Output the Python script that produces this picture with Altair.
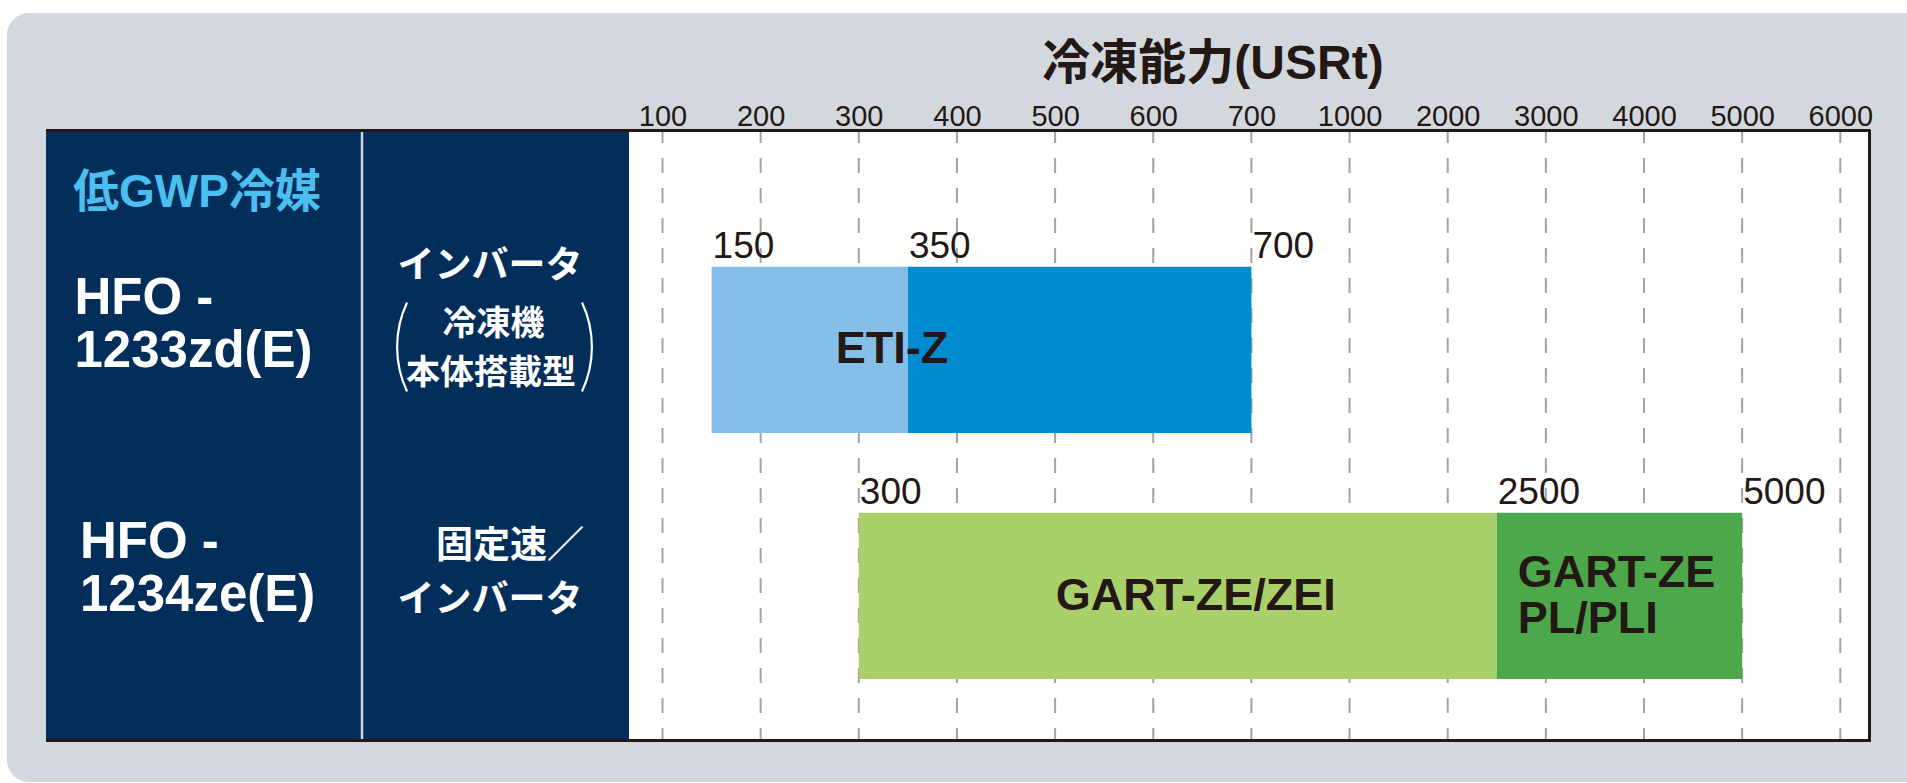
import altair as alt
import pandas as pd

# ---------------- data ----------------
tick_values = [100, 200, 300, 400, 500, 600, 700, 1000, 2000, 3000, 4000, 5000, 6000]

refrigerants = ["HFO-1233zd(E)", "HFO-1234ze(E)"]
refrigerant_labels = ["HFO -\n1233zd(E)", "HFO -\n1234ze(E)"]

seg_refrigerant = ["HFO-1233zd(E)", "HFO-1233zd(E)", "HFO-1234ze(E)", "HFO-1234ze(E)"]
seg_series = ["ETI-Z 150-350", "ETI-Z 350-700", "GART-ZE/ZEI", "GART-ZE PL/PLI"]
seg_start = [150, 350, 300, 2500]
seg_end = [350, 700, 2500, 5000]

bound_refrigerant = ["HFO-1233zd(E)"] * 3 + ["HFO-1234ze(E)"] * 3
bound_value = [150, 350, 700, 300, 2500, 5000]

model_text = ["ETI-Z", "GART-ZE/ZEI", "GART-ZE\nPL/PLI"]
model_refrigerant = ["HFO-1233zd(E)", "HFO-1234ze(E)", "HFO-1234ze(E)"]
model_anchor = [350, 300, 2500]

head_text = "低GWP冷媒"
drive_row1 = ["インバータ", "冷凍機", "本体搭載型"]
drive_row2 = ["固定速／", "インバータ"]
axis_title = "冷凍能力(USRt)"

# ---------------- styles / layout ----------------
seg_colors = ["#85BFE9", "#008BD0", "#AAD06C", "#4CA84A"]
INK = "#231815"
NAVY = "#032E5A"
PANEL = "#D3D8DF"
CYAN = "#4BBFEF"
LATIN = "Liberation Sans"
CJK = "Liberation Sans, Noto Sans CJK JP"

W, H = 1823, 610
PAD = {"left": 46, "top": 130, "right": 38, "bottom": 43}
tick_px = [616.5 + 98.15 * i for i in range(len(tick_values))]

seg_df = pd.DataFrame({"refrigerant": seg_refrigerant, "series": seg_series,
                       "start": seg_start, "end": seg_end})
bound_df = pd.DataFrame({"refrigerant": bound_refrigerant, "value": bound_value})
model_df = pd.DataFrame({"refrigerant": model_refrigerant, "text": model_text,
                         "anchor": model_anchor})
ref_df = pd.DataFrame({"refrigerant": refrigerants, "text": refrigerant_labels})
tick_df = pd.DataFrame({"tick": tick_values})
one = pd.DataFrame({"d": [0]})

xscale = alt.Scale(domain=tick_values, range=tick_px, zero=False, nice=False)
yscale = alt.Scale(domain=refrigerants, range=[136.7, 549.0], paddingInner=0.324, paddingOuter=0)
Y = alt.Y("refrigerant:N", scale=yscale, axis=None)

xaxis = alt.Axis(
    orient="top", values=tick_values, format="d", domain=False, ticks=False, tickSize=0,
    grid=False, labelFont=LATIN, labelFontSize=29, labelColor=INK, labelPadding=5,
    labelBaseline="alphabetic", labelFlush=False, labelOverlap=False, labelBound=False,
    title=axis_title, titleFont=CJK, titleFontSize=48, titleFontWeight="bold",
    titleColor=INK, titleX=1166.5, titleY=-52, titleAlign="center",
    titleBaseline="alphabetic", zindex=1,
)

def X(field):
    return alt.X(field, scale=xscale, axis=xaxis)

layers = []

# background panel, navy label area, white plot area
layers.append(alt.Chart(one).mark_rect(color=PANEL, cornerRadius=22).encode(
    x=alt.value(-39), x2=alt.value(1900), y=alt.value(-117), y2=alt.value(652)))
layers.append(alt.Chart(one).mark_rect(color=NAVY).encode(
    x=alt.value(0), x2=alt.value(583), y=alt.value(0), y2=alt.value(H)))
layers.append(alt.Chart(one).mark_rect(color="white").encode(
    x=alt.value(583), x2=alt.value(W), y=alt.value(0), y2=alt.value(H)))
layers.append(alt.Chart(one).mark_rule(color="#CDD2D9", strokeWidth=2.5).encode(
    x=alt.value(316), y=alt.value(0), y2=alt.value(H)))

# dashed grid
layers.append(alt.Chart(tick_df).mark_rule(
    color="#A3A3A3", strokeWidth=2, strokeDash=[15, 15], strokeDashOffset=2).encode(
    x=X("tick:Q"), y=alt.value(0), y2=alt.value(H)))

# bars
layers.append(alt.Chart(seg_df).mark_bar().encode(
    x=X("start:Q"), x2="end:Q", y=Y,
    color=alt.Color("series:N", scale=alt.Scale(domain=seg_series, range=seg_colors), legend=None)))

# frame
layers.append(alt.Chart(one).mark_rule(color=INK, strokeWidth=3).encode(
    x=alt.value(0), x2=alt.value(W + 1.5), y=alt.value(0.5)))
layers.append(alt.Chart(one).mark_rule(color=INK, strokeWidth=3).encode(
    x=alt.value(0), x2=alt.value(W + 1.5), y=alt.value(H + 0.5)))
layers.append(alt.Chart(one).mark_rule(color=INK, strokeWidth=3).encode(
    x=alt.value(W + 0.5), y=alt.value(0), y2=alt.value(H + 2)))

# boundary value labels
layers.append(alt.Chart(bound_df).mark_text(
    font=LATIN, fontSize=37, color=INK, align="left", baseline="alphabetic", dx=1, dy=-92).encode(
    x=X("value:Q"), y=Y, text=alt.Text("value:Q", format="d")))

# model labels
model_style = [("center", -16, 13), ("center", 337, 14), ("left", 21, -9)]
for i, (al, dx, dy) in enumerate(model_style):
    layers.append(alt.Chart(model_df.iloc[[i]]).mark_text(
        font=LATIN, fontSize=45, fontWeight="bold", color=INK, align=al,
        baseline="alphabetic", dx=dx, dy=dy, lineBreak="\n", lineHeight=46).encode(
        x=X("anchor:Q"), y=Y, text="text:N"))

# left panel: header
layers.append(alt.Chart(pd.DataFrame({"t": [head_text]})).mark_text(
    font=CJK, fontSize=46, fontWeight="bold", color=CYAN, align="left",
    baseline="alphabetic").encode(x=alt.value(27), y=alt.value(77), text="t:N"))

# left panel: refrigerant names
for i, (px, dy) in enumerate([(28.5, -36), (34, -38)]):
    layers.append(alt.Chart(ref_df.iloc[[i]]).mark_text(
        font=LATIN, fontSize=51, fontWeight="bold", color="white", align="left",
        baseline="alphabetic", dy=dy, lineBreak="\n", lineHeight=53).encode(
        x=alt.value(px), y=Y, text="text:N"))

# left panel: drive type texts
drive_items = [
    (refrigerants[0], drive_row1[0], 37, 444, -72),
    (refrigerants[0], drive_row1[1], 34, 447.5, -15),
    (refrigerants[0], drive_row1[2], 34, 445, 34),
    (refrigerants[1], drive_row2[0], 37, 464, -38),
    (refrigerants[1], drive_row2[1], 37, 444, 16),
]
for ref, txt, fs, px, dy in drive_items:
    layers.append(alt.Chart(pd.DataFrame({"refrigerant": [ref], "t": [txt]})).mark_text(
        font="Noto Sans CJK JP", fontSize=fs, fontWeight="bold", color="white",
        align="center", baseline="alphabetic", dy=dy).encode(
        x=alt.value(px), y=Y, text="t:N"))

# parentheses around 冷凍機/本体搭載型
layers.append(alt.Chart(one).mark_arc(color="white", theta=4.274, theta2=5.151,
                                      radius=106, radius2=103.8).encode(
    x=alt.value(456), y=alt.value(217)))
layers.append(alt.Chart(one).mark_arc(color="white", theta=1.133, theta2=2.009,
                                      radius=106, radius2=103.8).encode(
    x=alt.value(441), y=alt.value(217)))

chart = alt.layer(*layers).properties(
    width=W, height=H,
    autosize=alt.AutoSizeParams(type="none"),
    padding=PAD,
).configure(background="white", font=LATIN).configure_view(stroke=None)

chart.save("out.html", embed_options={"renderer": "svg", "actions": False})
